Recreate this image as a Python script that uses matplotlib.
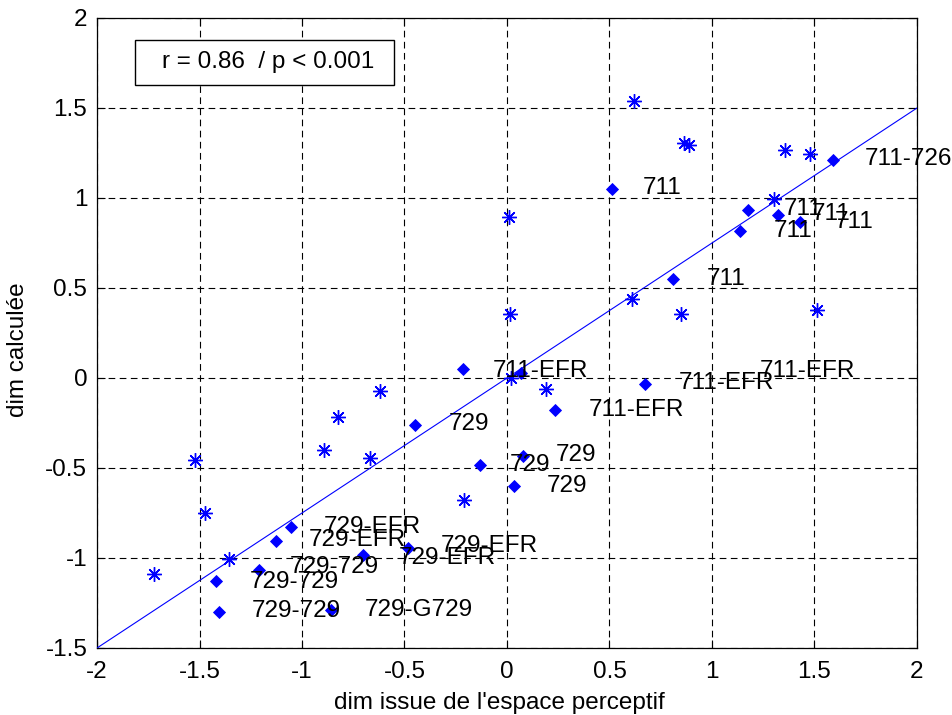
import matplotlib
matplotlib.use("Agg")
import matplotlib.pyplot as plt
from matplotlib.patches import Rectangle
import numpy as np

plt.rcParams['font.family'] = ['Liberation Sans', 'DejaVu Sans']

# ---- data ----
star_x = [0.620, 0.862, 0.886, 1.358, 1.477, 1.301, 0.008, 0.610, 0.016, 0.849, 1.512,
          -1.720, -1.523, -1.472, -1.358, -0.891, -0.826, -0.618, -0.670, -0.211, 0.190, 0.020]
star_y = [1.541, 1.306, 1.296, 1.267, 1.246, 0.994, 0.894, 0.439, 0.357, 0.357, 0.376,
          -1.087, -0.454, -0.750, -1.006, -0.402, -0.218, -0.074, -0.444, -0.676, -0.063, -0.002]

diam_x = [0.512, 1.590, 1.176, 1.320, 1.431, 1.138, 0.808, -0.215, 0.068, 0.234, 0.673,
          -0.449, -0.132, 0.078, 0.034, -1.054, -1.127, -0.702, -0.483, -1.210, -1.420, -1.405, -0.859]
diam_y = [1.050, 1.210, 0.933, 0.907, 0.867, 0.818, 0.550, 0.050, 0.028, -0.178, -0.033,
          -0.261, -0.483, -0.433, -0.600, -0.828, -0.906, -0.983, -0.944, -1.067, -1.128, -1.300, -1.289]

label_text = ["711", "711-726", "711", "711", "711", "711", "711",
              "711-EFR", "711-EFR", "711-EFR", "711-EFR",
              "729", "729", "729", "729",
              "729-EFR", "729-EFR", "729-EFR", "729-EFR",
              "729-729", "729-729", "729-729", "729-G729"]
label_x = [0.663, 1.746, 1.351, 1.488, 1.600, 1.302, 0.976,
           -0.068, 0.400, 0.839, 1.234,
           -0.283, 0.015, 0.239, 0.195,
           -0.893, -0.966, -0.527, -0.322,
           -1.059, -1.254, -1.244, -0.693]
label_y = [1.056, 1.217, 0.939, 0.911, 0.867, 0.817, 0.550,
           0.039, -0.178, -0.028, 0.039,
           -0.256, -0.483, -0.428, -0.600,
           -0.828, -0.900, -1.000, -0.933,
           -1.050, -1.133, -1.294, -1.289]

fit_slope = 0.75
fit_intercept = 0.0
x_range = [-2, 2]
y_range = [-1.5, 2]
x_ticks = [-2, -1.5, -1, -0.5, 0, 0.5, 1, 1.5, 2]
y_ticks = [-1.5, -1, -0.5, 0, 0.5, 1, 1.5, 2]
x_ticklabels = ["-2", "-1.5", "-1", "-0.5", "0", "0.5", "1", "1.5", "2"]
y_ticklabels = ["-1.5", "-1", "-0.5", "0", "0.5", "1", "1.5", "2"]
stat_text = "r = 0.86  / p < 0.001"
xlabel = "dim issue de l'espace perceptif"
ylabel = "dim calculée"

FS = 17.5
BLUE = "#0000ff"

fig = plt.figure(figsize=(9.53, 7.15), dpi=100)
ax = fig.add_axes([97/953, 1-648/715, 820/953, 630/715])

ax.grid(True, color="black", linestyle=(0, (6, 4)), linewidth=0.8)
ax.set_axisbelow(True)

fx = np.array(x_range, dtype=float)
ax.plot(fx, fit_slope*fx + fit_intercept, color=BLUE, linewidth=0.8, zorder=3)

ax.plot(star_x, star_y, linestyle="none", marker=(8, 2, 0), markersize=10.5,
        markeredgewidth=1.0, color=BLUE, zorder=4)
ax.plot(diam_x, diam_y, linestyle="none", marker="D", markersize=6,
        markeredgewidth=0.6, color=BLUE, zorder=4)

for t, lx, ly in zip(label_text, label_x, label_y):
    ax.text(lx, ly, t, fontsize=FS, ha="left", va="center", color="black", zorder=5)

ax.set_xlim(*x_range)
ax.set_ylim(*y_range)
ax.set_xticks(x_ticks)
ax.set_xticklabels(x_ticklabels, fontsize=FS)
ax.set_yticks(y_ticks)
ax.set_yticklabels(y_ticklabels, fontsize=FS)
ax.tick_params(direction="in", length=6, width=0.8, top=True, right=True, color="black")
ax.tick_params(axis="x", pad=9)
ax.tick_params(axis="y", pad=7)
for s in ax.spines.values():
    s.set_linewidth(0.9)
    s.set_color("black")

ax.set_xlabel(xlabel, fontsize=FS)
ax.xaxis.set_label_coords(0.491, -0.087)
ax.xaxis.label.set_va("center")
ax.set_ylabel(ylabel, fontsize=FS)
ax.yaxis.set_label_coords(-0.096, 0.473)
ax.yaxis.label.set_va("center")

ax.add_patch(Rectangle((0.0463, 0.894), 0.3157, 0.071, transform=ax.transAxes,
                       facecolor="white", edgecolor="black", linewidth=1.0, zorder=6))
ax.text(0.0793, 0.930, stat_text, transform=ax.transAxes, fontsize=FS,
        ha="left", va="center", zorder=7)

fig.savefig("out.png", dpi=100)
